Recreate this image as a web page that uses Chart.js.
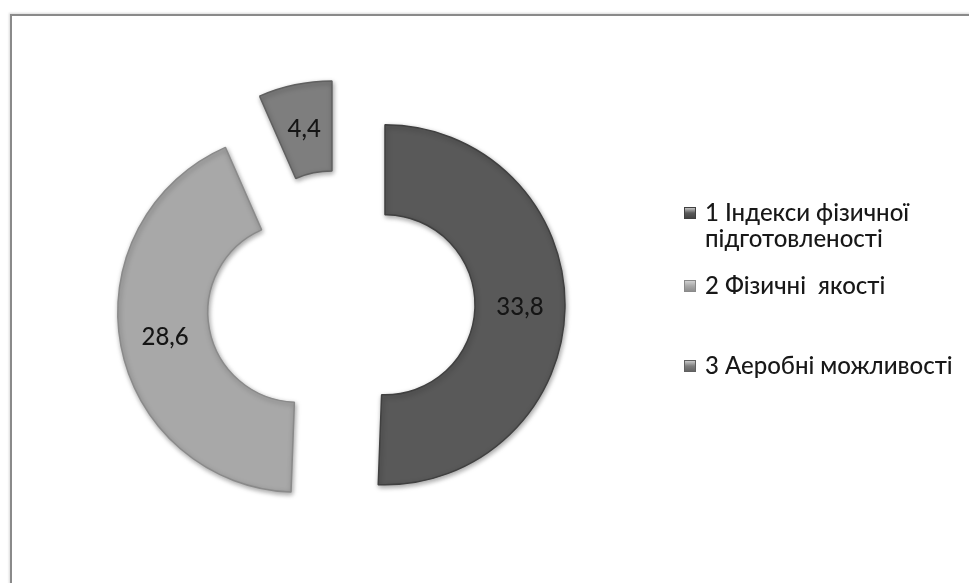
<!DOCTYPE html>
<html><head><meta charset="utf-8">
<script src="https://cdn.jsdelivr.net/npm/chart.js@4.4.0/dist/chart.umd.min.js"></script>
<style>
html,body{margin:0;padding:0;background:#fff;}
#wrap{position:relative;width:969px;height:583px;overflow:hidden;background:#fff;}
#frame{position:absolute;left:10px;top:14px;width:1000px;height:620px;border-left:2px solid #8a8a8a;border-top:2px solid #8a8a8a;box-shadow:-1px -1px 2px rgba(0,0,0,0.15);}
canvas{position:absolute;left:0;top:0;}
</style></head><body>
<div id="wrap"><div id="frame"></div><canvas id="c" width="969" height="583"></canvas></div>
<script>
// ---- data ----
const categories = ['1 Індекси фізичної підготовленості', '2 Фізичні  якості', '3 Аеробні можливості'];
const legendLines = [['1 Індекси фізичної', 'підготовленості'], ['2 Фізичні  якості'], ['3 Аеробні можливості']];
const values = [33.8, 28.6, 4.4];
const valueLabels = ['33,8', '28,6', '4,4'];
const colors = ['#595959', '#a8a8a8', '#7e7e7e'];
const borderColors = ['#404040', '#8a8a8a', '#606060'];

// ---- styling ----
const EXPLODE = 44;
const FONT = '500 24px Lato, "Open Sans", sans-serif';

const explodePlugin = {
  id: 'explode',
  beforeDatasetDraw(chart, args) {
    const ctx = chart.ctx;
    const meta = args.meta;
    meta.data.forEach((arc) => {
      const mid = (arc.startAngle + arc.endAngle) / 2;
      ctx.save();
      ctx.shadowColor = 'rgba(0,0,0,0.35)';
      ctx.shadowBlur = 5;
      ctx.shadowOffsetX = 1;
      ctx.shadowOffsetY = 2;
      ctx.translate(Math.cos(mid) * EXPLODE, Math.sin(mid) * EXPLODE);
      arc.draw(ctx);
      ctx.restore();
    });
    ctx.save();
    ctx.font = FONT;
    ctx.fillStyle = '#151515';
    ctx.textAlign = 'center';
    ctx.textBaseline = 'middle';
    meta.data.forEach((arc, i) => {
      const mid = (arc.startAngle + arc.endAngle) / 2;
      const r = EXPLODE + (arc.innerRadius + arc.outerRadius) / 2;
      ctx.fillText(valueLabels[i], arc.x + Math.cos(mid) * r, arc.y + Math.sin(mid) * r);
    });
    ctx.restore();
    return false;
  }
};

const legendPlugin = {
  id: 'customLegend',
  afterDraw(chart) {
    const ctx = chart.ctx;
    const baselines = [[221, 247], [294], [374]];
    ctx.save();
    ctx.font = FONT;
    ctx.textAlign = 'left';
    ctx.textBaseline = 'alphabetic';
    legendLines.forEach((lines, i) => {
      const by = baselines[i][0];
      const sy = by - 14;
      const g = ctx.createLinearGradient(0, sy, 0, sy + 12);
      g.addColorStop(0, '#d8d8d8');
      g.addColorStop(0.5, colors[i]);
      g.addColorStop(1, borderColors[i]);
      ctx.fillStyle = g;
      ctx.fillRect(684, sy, 12, 12);
      ctx.strokeStyle = borderColors[i];
      ctx.lineWidth = 1;
      ctx.strokeRect(684.5, sy + 0.5, 11, 11);
      ctx.fillStyle = '#181818';
      lines.forEach((t, j) => ctx.fillText(t, 705, baselines[i][j]));
    });
    ctx.restore();
  }
};

new Chart(document.getElementById('c'), {
  type: 'doughnut',
  data: {
    labels: categories,
    datasets: [{
      data: values,
      backgroundColor: colors,
      borderColor: borderColors,
      borderWidth: 1.5
    }]
  },
  options: {
    responsive: false,
    animation: false,
    devicePixelRatio: 1,
    radius: 180,
    cutout: '50%',
    layout: { padding: { left: 0, right: 287, top: 25, bottom: 0 } },
    plugins: { legend: { display: false }, tooltip: { enabled: false } }
  },
  plugins: [explodePlugin, legendPlugin]
});
</script>
</body></html>
